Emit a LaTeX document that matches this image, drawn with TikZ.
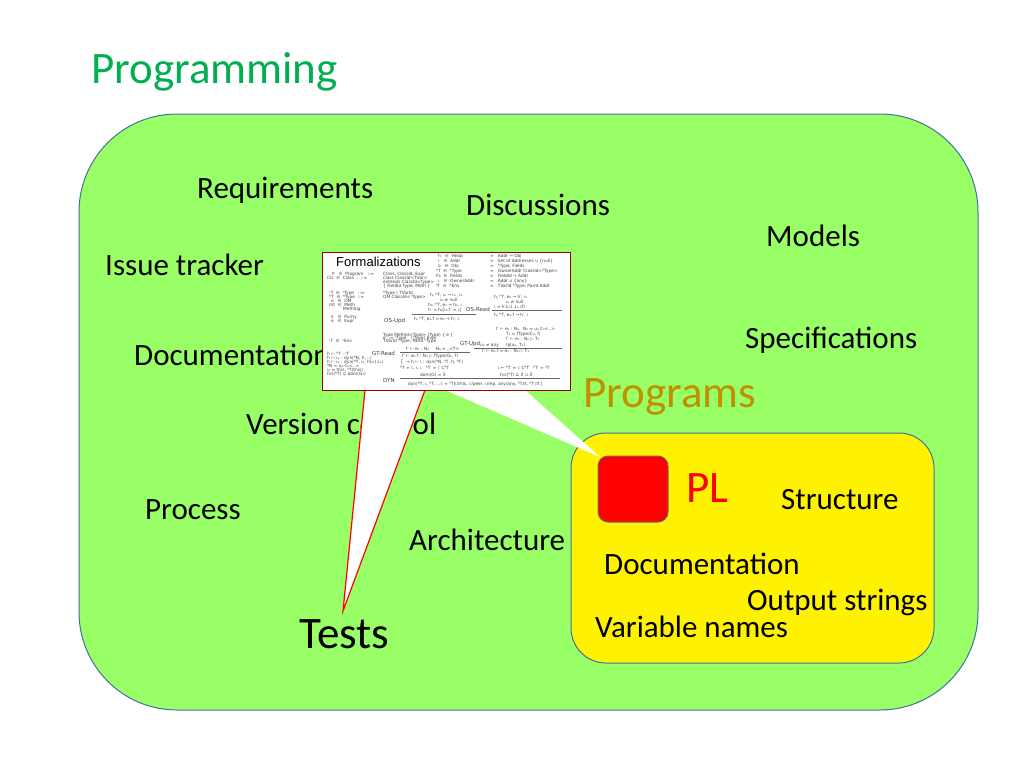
\documentclass[tikz,border=0pt]{standalone}
\usepackage{fontspec}
\setmainfont{Carlito}
\newfontfamily\fmlfont{DejaVu Sans}
\newfontfamily\headfont{Liberation Sans}
\definecolor{bggreen}{HTML}{99FF66}
\definecolor{edgeblue}{HTML}{41719C}
\definecolor{titlegreen}{HTML}{00B050}
\definecolor{goldtxt}{HTML}{BF9000}
\definecolor{sqedge}{HTML}{6C6C6C}
\begin{document}
\begin{tikzpicture}[x=1pt,y=-1pt,
  lbl/.style={font=\fontsize{31}{31}\selectfont, anchor=base west, inner sep=0pt},
  big/.style={font=\fontsize{45}{45}\selectfont, anchor=base west, inner sep=0pt},
  fml/.style={font=\fmlfont\fontsize{4.3}{5}\selectfont, anchor=base west, inner sep=0pt, text=black!75},
  rname/.style={font=\fmlfont\fontsize{5.5}{6}\selectfont, anchor=base west, inner sep=0pt, text=black!75},
  fbar/.style={black!60, line width=0.4pt},
  wedge/.style={fill=white, draw=none}]

\useasboundingbox (0,0) rectangle (1024,768);
\fill[white] (0,0) rectangle (1024,768);

% title
\node[big, text=titlegreen] (title) at (91,83) {Programming};

% big green area
\draw[edgeblue, fill=bggreen, line width=1pt, rounded corners=98pt] (79,114) rectangle (978,710);

% labels in green area
\node[lbl] (req)  at (197,198) {Requirements};
\node[lbl] (disc) at (466,215) {Discussions};
\node[lbl] (mod)  at (766,246) {Models};
\node[lbl] (iss)  at (105,275) {Issue tracker};
\node[lbl] (spec) at (745,348) {Specifications};
\node[lbl] (doc)  at (134,365) {Documentation};
\node[lbl] (ver)  at (246,434) {Version control};
\node[lbl] (proc) at (145,519) {Process};
\node[lbl] (arch) at (409,550) {Architecture};
\node[big, text=black] (tests) at (299,648) {Tests};
\node[big, text=goldtxt] (progs) at (583,407) {Programs};

% yellow programs area
\draw[edgeblue, fill=yellow, line width=1pt, rounded corners=35pt] (571,433) rectangle (934,663);
\node[big, text=red] (pl) at (686,502) {PL};
\node[lbl] (struc) at (781,509) {Structure};
\node[lbl] (doc2)  at (604,574) {Documentation};
\node[lbl] (outs)  at (747,610) {Output strings};
\node[lbl] (vars)  at (595,637) {Variable names};

% callout wedges
\coordinate (boxA) at (365,390);
\coordinate (boxB) at (425,390);
\coordinate (tip)  at (343,611);
\coordinate (boxC) at (445,390);
\coordinate (boxD) at (525,390);
\coordinate (tip2) at (600,457);
\fill[wedge] (boxA) -- (tip) -- (boxB) -- cycle;
\draw[red, line width=1.2pt, line join=miter] (boxA) -- (tip) -- (boxB);
\fill[wedge] (boxC) -- (tip2) -- (boxD) -- cycle;

% red PL square
\draw[sqedge, fill=red, line width=1pt, rounded corners=10pt] (598,456) rectangle (668,522);

% formalizations box
\draw[fill=white, draw=red!60!black, line width=0.5pt] (322,252) rectangle (570,390);
\node[font=\headfont\fontsize{13}{13}\selectfont, anchor=base west, inner sep=0pt] (fhead) at (336,266) {Formalizations};

% right column: runtime
\node[fml] at (438,257) {h \ \ ∈ \ Heap};
\node[fml] at (438,262) {ι \ \ ∈ \ Addr};
\node[fml] at (438,267) {o \ \ ∈ \ Obj};
\node[fml] at (436,272) {ᴿT \ ∈ \ ᴿType};
\node[fml] at (436,277) {Fs \ ∈ \ Fields};
\node[fml] at (438,282) {ι \ \ ∈ \ OwnerAddr};
\node[fml] at (436,287) {ᴿΓ \ ∈ \ ᴿEnv};
\node[fml] at (490,257) {= \ \ Addr → Obj};
\node[fml] at (490,262) {= \ \ Set of Addresses ∪ \{null\}};
\node[fml] at (490,267) {= \ \ ᴿType, Fields};
\node[fml] at (490,272) {= \ \ OwnerAddr ClassId<ᴿType>};
\node[fml] at (490,277) {= \ \ FieldId → Addr};
\node[fml] at (490,282) {= \ \ Addr ∪ \{any\}};
\node[fml] at (490,287) {= \ \ TVarId ᴿType; ParId Addr};

% left column: syntax
\node[fml] at (332,275) {P \ \ ∈ \ Program \ \ ::=};
\node[fml] at (327,279) {Cls \ ∈ \ Class \ \ \ \ ::=};
\node[fml] at (383,275) {Class, ClassId, Expr};
\node[fml] at (383,279) {class ClassId<TVar>};
\node[fml] at (383,283) {extends ClassId<Type>};
\node[fml] at (383,287) {\{ FieldId Type; Meth \}};
\node[fml] at (329,294) {ˢT \ ∈ \ ˢType \ \ ::=};
\node[fml] at (329,298) {ᴺT \ ∈ \ ᴺType \ ::=};
\node[fml] at (331,302) {o \ \ ∈ \ OM};
\node[fml] at (329,306) {mt \ ∈ \ Meth};
\node[fml] at (343,310) {MethSig};
\node[fml] at (331,318) {π \ \ ∈ \ Purity};
\node[fml] at (331,322) {e \ \ ∈ \ Expr};
\node[fml] at (329,342) {ˢΓ \ ∈ \ ˢEnv};
\node[fml] at (383,294) {ᴺType | TVarId};
\node[fml] at (383,298) {OM ClassId<ˢType>};
\node[fml] at (383,336) {Type MethId<Type> (Type) \{ e \}};
\node[fml] at (383,339) {e ::= ˢType \ \ (ˢType) Expr};
\node[fml] at (383,342) {TVarId ˢType; ParId ˢType};

% OS-Upd rule
\node[fml] at (430,296) {h, ᴿT, ι₀ → ι₀′, ι₀};
\node[fml] at (440,301) {ι₀ ≠ null};
\node[fml] at (428,306) {h₀, ᴿT, e₂ → h₁, ι};
\node[fml] at (428,311) {h′ = h₁[ι₀.f := ι]};
\draw[fbar] (412,314) -- (476,314);
\node[rname] (osupd) at (384,322) {OS-Upd};
\node[fml] at (414,320) {h, ᴿT, e₀.f = e₂ → h′, ι};

% OS-Read rule
\node[fml] at (494,298) {h, ᴿT, e₀ → h′, ι₀};
\node[fml] at (506,303) {ι₀ ≠ null};
\node[fml] at (494,308) {ι = h′(ι₀) ↓₂ (f)};
\draw[fbar] (492,310) -- (562,310);
\node[rname] (osread) at (466,311) {OS-Read};
\node[fml] at (494,316) {h, ᴿT, e₀.f → h′, ι};

% GT-Upd rule
\node[fml] at (496,330) {Γ ⊢ e₀ : N₀ \ \ N₀ = u₀ C₀<..>};
\node[fml] at (506,335) {T₁ = fType(C₀, f)};
\node[fml] at (506,340) {Γ ⊢ e₂ : N₀ ▷ T₁};
\node[fml] at (480,346) {u₀ ≠ any \ \ \ \ rp(u₀, T₁)};
\draw[fbar] (474,348) -- (562,348);
\node[rname] (gtupd) at (460,345) {GT-Upd};
\node[fml] at (482,352) {Γ ⊢ e₀.f = e₂ : N₀ ▷ T₁};

% GT-Read rule
\node[rname] (gtread) at (372,355) {GT-Read};
\node[fml] at (406,350) {Γ ⊢ e₀ : N₀ \ \ \ \ N₀ = \_<T>};
\draw[fbar] (400,352) -- (470,352);
\node[fml] at (402,357) {Γ ⊢ e₀.f : N₀ ▷ fType(G₀, f)};

% bottom left
\node[fml] at (327,355) {h ⊢ ᴿT : ˢT};
\node[fml] at (327,359) {h ⊢ ι₁ : dyn(ᴺN, h, ..)};
\node[fml] at (327,363) {h ⊢ ι₂ : dyn(ᴺT, ι₁, h(ι₁)↓₁)};
\node[fml] at (327,367) {ᴺN = u₀ C₀<..>};
\node[fml] at (327,371) {ι₀ = this, ᴿT(this)};
\node[fml] at (327,375) {fvs(ᴺT) ⊆ dom(G₀)};

% DYN
\node[fml] at (400,363) {⎧ \ → h ⊢ ι : dyn(ᴺN, ᴿT, h, ᴿT)};
\node[fml] at (400,369) {ᴿT = ι′, ι, ι \ \ ᴿT′ = ι′ CᴿT};
\node[fml] at (498,369) {ι ← ᴿT′ = ι′ CᴿT \ \ ᴿT′ = ᴿT};
\node[fml] at (420,376) {dom(G) = X̄};
\node[fml] at (500,376) {fvs(ᴿT) ⊆ X̄ ∪ X̄′};
\draw[fbar] (400,378) -- (560,378);
\node[rname] (dyn) at (383,382) {DYN};
\node[fml] at (408,385) {dyn(ᴺT, ι, ᴿT, ...) = ᴿT[ι/this, ι′/peer, ι/rep, any/any, ᴿT/X, ᴿT′/X′]};

\end{tikzpicture}
\end{document}
